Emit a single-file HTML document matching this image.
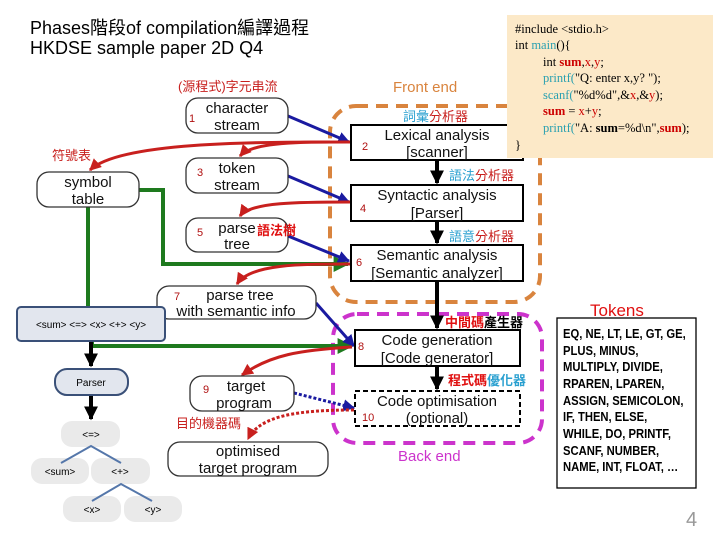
<!DOCTYPE html>
<html><head><meta charset="utf-8"><style>
body{margin:0;width:720px;height:540px;background:#fff;overflow:hidden;position:relative;font-family:"Liberation Sans","Noto Sans CJK TC",sans-serif}
svg{position:absolute;left:0;top:0}
</style></head><body>
<svg width="720" height="540" viewBox="0 0 720 540" font-family="Liberation Sans, Noto Sans CJK TC, sans-serif">
<defs>
<marker id="ab" viewBox="0 0 10 10" refX="9" refY="5" markerWidth="4" markerHeight="4" orient="auto"><path d="M0,0L10,5L0,10z" fill="#1a1aa0"/></marker>
<marker id="ar" viewBox="0 0 10 10" refX="9" refY="5" markerWidth="4" markerHeight="4" orient="auto"><path d="M0,0L10,5L0,10z" fill="#c8201e"/></marker>
<marker id="ag" viewBox="0 0 10 10" refX="9" refY="5" markerWidth="4" markerHeight="4" orient="auto"><path d="M0,0L10,5L0,10z" fill="#1e7a1e"/></marker>
<marker id="ak" viewBox="0 0 10 10" refX="9" refY="5" markerWidth="3.5" markerHeight="3.5" orient="auto"><path d="M0,0L10,5L0,10z" fill="#000"/></marker>
</defs>
<text x="30" y="34" font-size="18" fill="#000">Phases階段of compilation編譯過程</text>
<text x="30" y="54" font-size="18" fill="#000">HKDSE sample paper 2D Q4</text>

<rect x="330" y="106" width="210" height="196" rx="26" fill="none" stroke="#d9843e" stroke-width="4" stroke-dasharray="12,8"/>
<text x="393" y="92" font-size="15" fill="#d9843e">Front end</text>
<rect x="333" y="314" width="209" height="129" rx="24" fill="none" stroke="#cc33cc" stroke-width="4" stroke-dasharray="12,8"/>
<text x="398" y="461" font-size="15" fill="#cc33cc">Back end</text>

<path d="M139,190 H163 V264 H348" fill="none" stroke="#1e7a1e" stroke-width="4" marker-end="url(#ag)"/>
<path d="M88,207 V307" fill="none" stroke="#1e7a1e" stroke-width="4"/>
<path d="M92,341 V346 H352" fill="none" stroke="#1e7a1e" stroke-width="4" marker-end="url(#ag)"/>

<g stroke="#000" stroke-width="4" fill="none">
<path d="M437,160 V183" marker-end="url(#ak)"/>
<path d="M437,221 V243" marker-end="url(#ak)"/>
<path d="M437,281 V328" marker-end="url(#ak)"/>
<path d="M437,366 V389" marker-end="url(#ak)"/>
<path d="M91,341 V366" marker-end="url(#ak)"/>
<path d="M91,395 V419" marker-end="url(#ak)"/>
</g>

<g stroke="#1a1aa0" stroke-width="3" fill="none">
<path d="M288,116 L349,142" marker-end="url(#ab)"/>
<path d="M288,176 L349,202" marker-end="url(#ab)"/>
<path d="M288,236 L349,261" marker-end="url(#ab)"/>
<path d="M316,303 L354,346" marker-end="url(#ab)"/>
<path d="M294,393 L354,408" stroke-dasharray="3,2" marker-end="url(#ab)"/>
</g>
<g stroke="#c8201e" stroke-width="3" fill="none">
<path d="M351,142 C250,142 120,142 90,170" marker-end="url(#ar)"/>
<path d="M330,142 C280,142 250,145 240,156" marker-end="url(#ar)"/>
<path d="M351,202 C300,202 250,202 240,216" marker-end="url(#ar)"/>
<path d="M351,264 C300,264 250,264 237,284" marker-end="url(#ar)"/>
<path d="M352,347 C300,350 270,355 242,375" marker-end="url(#ar)"/>
<path d="M354,410 C300,410 260,415 248,439" stroke-dasharray="3,2" marker-end="url(#ar)"/>
</g>

<g fill="#fff" stroke="#333" stroke-width="1.3">
<rect x="186" y="98" width="102" height="35" rx="12"/>
<rect x="186" y="158" width="102" height="35" rx="12"/>
<rect x="186" y="218" width="102" height="34" rx="12"/>
<rect x="37" y="172" width="102" height="35" rx="12"/>
<rect x="157" y="286" width="159" height="33" rx="12"/>
<rect x="190" y="376" width="104" height="35" rx="12"/>
<rect x="168" y="442" width="160" height="34" rx="12"/>
</g>
<g font-size="15" fill="#111" text-anchor="middle">
<text x="237" y="113">character</text><text x="237" y="130">stream</text>
<text x="237" y="173">token</text><text x="237" y="190">stream</text>
<text x="237" y="233">parse</text><text x="237" y="249">tree</text>
<text x="88" y="187">symbol</text><text x="88" y="204">table</text>
<text x="240" y="300">parse tree</text><text x="236" y="316">with semantic info</text>
<text x="246" y="391">target</text><text x="244" y="408">program</text>
<text x="248" y="456">optimised</text><text x="248" y="473">target program</text>
</g>

<g fill="#fff" stroke="#000" stroke-width="2">
<rect x="351" y="125" width="172" height="35"/>
<rect x="351" y="185" width="172" height="36"/>
<rect x="351" y="245" width="172" height="36"/>
<rect x="355" y="330" width="165" height="36"/>
<rect x="355" y="391" width="165" height="35" stroke-dasharray="5,3"/>
</g>
<g font-size="15" fill="#111" text-anchor="middle">
<text x="437" y="140">Lexical analysis</text><text x="437" y="157">[scanner]</text>
<text x="437" y="200">Syntactic analysis</text><text x="437" y="218">[Parser]</text>
<text x="437" y="260">Semantic analysis</text><text x="437" y="278">[Semantic analyzer]</text>
<text x="437" y="345">Code generation</text><text x="437" y="363">[Code generator]</text>
<text x="437" y="406">Code optimisation</text><text x="437" y="423">(optional)</text>
</g>
<g font-size="11" fill="#b01010">
<text x="189" y="122">1</text><text x="362" y="150">2</text><text x="197" y="176">3</text>
<text x="360" y="212">4</text><text x="197" y="236">5</text><text x="356" y="266">6</text>
<text x="174" y="300">7</text><text x="358" y="350">8</text><text x="203" y="393">9</text><text x="362" y="421">10</text>
</g>
<g font-size="13" fill="#c8201e">
<text x="178" y="91">(源程式)字元串流</text>
<text x="52" y="160">符號表</text>
<text x="176" y="428">目的機器碼</text>
</g>
<text x="257" y="235" font-size="13" font-weight="bold" fill="#e01010">語法樹</text>
<text x="403" y="121" font-size="13"><tspan fill="#2aa0d0">詞彙</tspan><tspan fill="#c8201e">分析器</tspan></text>
<text x="449" y="180" font-size="13"><tspan fill="#2aa0d0">語法</tspan><tspan fill="#c8201e">分析器</tspan></text>
<text x="449" y="241" font-size="13"><tspan fill="#2aa0d0">語意</tspan><tspan fill="#c8201e">分析器</tspan></text>
<text x="445" y="327" font-size="13" font-weight="bold"><tspan fill="#e01010">中間碼</tspan><tspan fill="#000">產生器</tspan></text>
<text x="448" y="385" font-size="13" font-weight="bold"><tspan fill="#e01010">程式碼</tspan><tspan fill="#2aa0d0">優化器</tspan></text>

<rect x="507" y="15" width="206" height="143" fill="#fce9c8"/>
<g font-family="Liberation Serif, serif" font-size="12.5" fill="#000">
<text x="515" y="33">#include &lt;stdio.h&gt;</text>
<text x="515" y="49">int <tspan fill="#2aa0b0">main</tspan>(){</text>
<text x="543" y="66">int <tspan fill="#c00" font-weight="bold">sum</tspan>,<tspan fill="#c00">x</tspan>,<tspan fill="#c00">y</tspan>;</text>
<text x="543" y="82" fill="#2aa0b0">printf(<tspan fill="#000">"Q: enter x,y? ");</tspan></text>
<text x="543" y="99" fill="#2aa0b0">scanf(<tspan fill="#000">"%d%d",&amp;</tspan><tspan fill="#c00">x</tspan><tspan fill="#000">,&amp;</tspan><tspan fill="#c00">y</tspan><tspan fill="#000">);</tspan></text>
<text x="543" y="115"><tspan fill="#c00" font-weight="bold">sum</tspan> = <tspan fill="#c00">x</tspan>+<tspan fill="#c00">y</tspan>;</text>
<text x="543" y="132" fill="#2aa0b0">printf(<tspan fill="#000">"A: <tspan font-weight="bold">sum</tspan>=%d\n",</tspan><tspan fill="#c00" font-weight="bold">sum</tspan><tspan fill="#000">);</tspan></text>
<text x="515" y="149">}</text>
</g>

<rect x="17" y="307" width="148" height="34" rx="4" fill="#e2e6ee" stroke="#3a5078" stroke-width="2"/>
<text x="91" y="328" font-size="10" text-anchor="middle">&lt;sum&gt; &lt;=&gt; &lt;x&gt; &lt;+&gt; &lt;y&gt;</text>
<rect x="55" y="369" width="73" height="26" rx="12" fill="#e2e6ee" stroke="#3a5078" stroke-width="2"/>
<text x="91" y="386" font-size="10" text-anchor="middle">Parser</text>
<g fill="#eaeaea">
<rect x="61" y="421" width="59" height="26" rx="11"/>
<rect x="31" y="458" width="58" height="26" rx="11"/>
<rect x="91" y="458" width="59" height="26" rx="11"/>
<rect x="63" y="496" width="58" height="26" rx="11"/>
<rect x="124" y="496" width="58" height="26" rx="11"/>
</g>
<g stroke="#5577aa" stroke-width="2" fill="none">
<path d="M61,463 L91,446 L121,463"/><path d="M92,501 L121,484 L152,501"/>
</g>
<g font-size="10" text-anchor="middle">
<text x="91" y="438">&lt;=&gt;</text><text x="60" y="475">&lt;sum&gt;</text><text x="120" y="475">&lt;+&gt;</text>
<text x="92" y="513">&lt;x&gt;</text><text x="153" y="513">&lt;y&gt;</text>
</g>

<text x="590" y="316" font-size="17" fill="#e01010">Tokens</text>
<rect x="557" y="318" width="139" height="170" fill="#fff" stroke="#000" stroke-width="1.3"/>
<g transform="translate(563,0) scale(0.9,1) translate(-563,0)" font-size="12.5" font-weight="bold" fill="#000">
<text x="563" y="338">EQ, NE, LT, LE, GT, GE,</text>
<text x="563" y="355">PLUS, MINUS,</text>
<text x="563" y="371">MULTIPLY, DIVIDE,</text>
<text x="563" y="388">RPAREN, LPAREN,</text>
<text x="563" y="405">ASSIGN, SEMICOLON,</text>
<text x="563" y="421">IF, THEN, ELSE,</text>
<text x="563" y="438">WHILE, DO, PRINTF,</text>
<text x="563" y="455">SCANF, NUMBER,</text>
<text x="563" y="471">NAME, INT, FLOAT, …</text>
</g>
<text x="686" y="526" font-size="20" fill="#999">4</text>
</svg>
</body></html>
